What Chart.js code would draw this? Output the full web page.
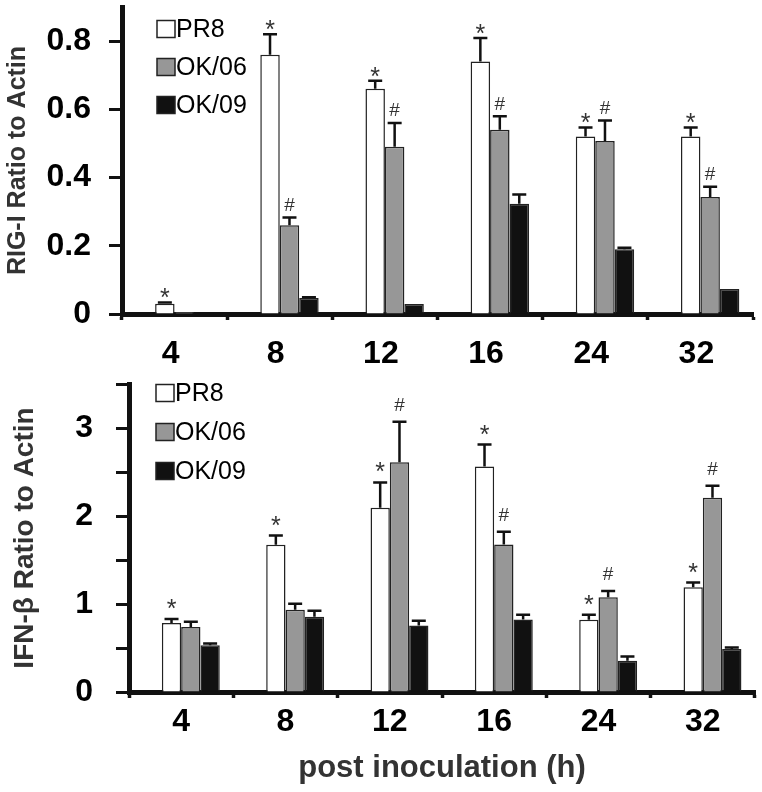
<!DOCTYPE html>
<html>
<head>
<meta charset="utf-8">
<script src="https://cdn.jsdelivr.net/npm/chart.js@4.4.1/dist/chart.umd.min.js"></script>
<style>
  html, body { margin: 0; padding: 0; background: #fff; }
  #wrap { position: relative; width: 762px; height: 792px; }
  canvas { position: absolute; left: 0; }
  #rigChart { top: 0; }
  #ifnChart { top: 380px; }
</style>
</head>
<body>
<div id="wrap">
  <canvas id="rigChart" width="762" height="380"></canvas>
  <canvas id="ifnChart" width="762" height="412"></canvas>
</div>
<script>
// hours post inoculation
const hours = ['4', '8', '12', '16', '24', '32'];
const strains = ['PR8', 'OK/06', 'OK/09'];

// RIG-I ratio to actin (top panel)
const rigPR8 = [0.03, 0.76, 0.66, 0.74, 0.52, 0.52];
const rigOK06 = [0.006, 0.26, 0.49, 0.54, 0.507, 0.343];
const rigOK09 = [0.002, 0.047, 0.029, 0.323, 0.19, 0.073];
const rigPR8Err = [0.004, 0.06, 0.024, 0.069, 0.027, 0.027];
const rigOK06Err = [0, 0.023, 0.07, 0.04, 0.06, 0.03];
const rigOK09Err = [0, 0.002, 0, 0.027, 0.004, 0];
const rigPR8Marks = ['*', '*', '*', '*', '*', '*'];
const rigOK06Marks = ['', '#', '#', '#', '#', '#'];
const rigYTicks = ['0', '0.2', '0.4', '0.6', '0.8'];

// IFN-beta ratio to actin (bottom panel)
const ifnPR8 = [0.784, 1.672, 2.095, 2.562, 0.821, 1.191];
const ifnOK06 = [0.739, 0.934, 2.61, 1.677, 1.078, 2.208];
const ifnOK09 = [0.531, 0.855, 0.757, 0.825, 0.355, 0.49];
const ifnPR8Err = [0.045, 0.106, 0.286, 0.25, 0.057, 0.052];
const ifnOK06Err = [0.06, 0.07, 0.46, 0.143, 0.071, 0.135];
const ifnOK09Err = [0.02, 0.068, 0.053, 0.053, 0.048, 0.015];
const ifnPR8Marks = ['*', '*', '*', '*', '*', '*'];
const ifnOK06Marks = ['', '', '#', '#', '#', '#'];
const ifnYTicks = ['0', '1', '2', '3'];

const fillColors = ['#ffffff', '#979797', '#111111'];
const FONT = '"Liberation Sans", Arial, Helvetica, sans-serif';

// error bars, significance marks and the inset legend
const annotate = {
  id: 'annotate',
  afterDatasetsDraw(chart, args, opts) {
    const ctx = chart.ctx;
    const yScale = chart.scales.y;
    ctx.save();
    chart.data.datasets.forEach((ds, di) => {
      if (!ds.errors) return;
      const meta = chart.getDatasetMeta(di);
      meta.data.forEach((bar, i) => {
        const top = yScale.getPixelForValue(ds.data[i] + ds.errors[i]);
        if (ds.errors[i] > 0) {
          ctx.strokeStyle = '#111';
          ctx.lineWidth = 2.5;
          ctx.beginPath();
          ctx.moveTo(bar.x, bar.y);
          ctx.lineTo(bar.x, top);
          ctx.moveTo(bar.x - 7, top);
          ctx.lineTo(bar.x + 7, top);
          ctx.stroke();
        }
        const mark = ds.marks ? ds.marks[i] : '';
        if (mark) {
          ctx.fillStyle = '#333';
          ctx.textAlign = 'center';
          ctx.textBaseline = 'alphabetic';
          if (mark === '*') {
            ctx.font = '25px ' + FONT;
            ctx.fillText(mark, bar.x, top - opts.starGap + 14);
          } else {
            ctx.font = '19px ' + FONT;
            ctx.fillText(mark, bar.x, top - opts.hashGap + 6.5);
          }
        }
      });
    });

    // legend
    let row = 0;
    chart.data.datasets.forEach(ds => {
      if (!ds.label) return;
      const cy = opts.legendY + row * opts.legendGap;
      ctx.fillStyle = ds.backgroundColor;
      ctx.fillRect(opts.legendX, cy - 8.5, 18, 17);
      ctx.strokeStyle = '#222';
      ctx.lineWidth = 1.5;
      ctx.strokeRect(opts.legendX, cy - 8.5, 18, 17);
      ctx.fillStyle = '#000';
      ctx.font = '25px ' + FONT;
      ctx.textAlign = 'left';
      ctx.textBaseline = 'middle';
      ctx.fillText(ds.label, opts.legendX + 19, cy + 1);
      row++;
    });
    ctx.restore();
  }
};

function makeDatasets(series, errors, marks) {
  // invisible first set pushes each group a little right of the category centre
  const sets = [{
    label: '',
    data: hours.map(() => 0),
    backgroundColor: 'rgba(0,0,0,0)',
    borderWidth: 0
  }];
  series.forEach((vals, k) => {
    sets.push({
      label: strains[k],
      data: vals,
      errors: errors[k],
      marks: marks[k],
      backgroundColor: fillColors[k],
      borderColor: '#222',
      borderWidth: 1.5
    });
  });
  return sets;
}

function makeChart(id, cfg) {
  return new Chart(document.getElementById(id), {
    type: 'bar',
    data: { labels: hours, datasets: cfg.datasets },
    plugins: [annotate],
    options: {
      responsive: false,
      animation: false,
      devicePixelRatio: 1,
      categoryPercentage: 0.74,
      barPercentage: 1,
      layout: { padding: cfg.padding },
      plugins: {
        legend: { display: false },
        tooltip: { enabled: false },
        annotate: cfg.annotate
      },
      scales: {
        x: {
          afterFit: s => {
            s.height = cfg.xHeight;
            s.paddingLeft = 0;
            s.paddingRight = 0;
          },
          grid: { offset: true, drawOnChartArea: false, tickLength: 6, tickWidth: 3.5, tickColor: '#111' },
          border: { width: 5, color: '#111' },
          ticks: {
            color: '#000',
            font: { family: FONT, size: 32, weight: 'bold' },
            padding: cfg.xPad,
            labelOffset: cfg.xLabelOffset,
            maxRotation: 0
          },
          title: cfg.xTitle
        },
        y: {
          min: 0,
          max: cfg.yMax,
          afterFit: s => {
            s.width = cfg.yWidth;
            s.paddingTop = 0;
            s.paddingBottom = 0;
          },
          grid: { drawOnChartArea: false, tickLength: cfg.yTickLen, tickWidth: 3, tickColor: '#111' },
          border: { width: 5, color: '#111' },
          ticks: {
            stepSize: cfg.yStep,
            color: '#000',
            font: { family: FONT, size: 32, weight: 'bold' },
            padding: cfg.yPad,
            callback: (v, i) => (i % 2 === 0 ? (cfg.yTicks[i / 2] || '') : '')
          },
          title: {
            display: true,
            text: cfg.yTitle,
            color: '#333',
            font: { family: FONT, size: cfg.yTitleSize, weight: 'bold' },
            padding: { top: cfg.yTitlePad, bottom: 0 }
          }
        }
      }
    }
  });
}

makeChart('rigChart', {
  datasets: makeDatasets([rigPR8, rigOK06, rigOK09], [rigPR8Err, rigOK06Err, rigOK09Err], [rigPR8Marks, rigOK06Marks, []]),
  padding: { top: 7, right: 9, left: 0, bottom: 0 },
  xHeight: 66,
  xPad: 15,
  xLabelOffset: -4,
  xTitle: { display: false },
  yMax: 0.9,
  yStep: 0.1,
  yTicks: rigYTicks,
  yWidth: 122,
  yTickLen: 13,
  yPad: 18,
  yTitle: 'RIG-I Ratio to Actin',
  yTitleSize: 25,
  yTitlePad: 3,
  annotate: { starGap: 10, hashGap: 13, legendX: 157, legendY: 29, legendGap: 38 }
});

makeChart('ifnChart', {
  datasets: makeDatasets([ifnPR8, ifnOK06, ifnOK09], [ifnPR8Err, ifnOK06Err, ifnOK09Err], [ifnPR8Marks, ifnOK06Marks, []]),
  padding: { top: 4, right: 7, left: 0, bottom: 0 },
  xHeight: 100,
  xPad: 5,
  xLabelOffset: 0,
  xTitle: {
    display: true,
    text: 'post inoculation (h)',
    color: '#333',
    font: { family: FONT, size: 31, weight: 'bold' },
    padding: { top: 0, bottom: 5 }
  },
  yMax: 3.5,
  yStep: 0.5,
  yTicks: ifnYTicks,
  yWidth: 129,
  yTickLen: 13,
  yPad: 23,
  yTitle: 'IFN-β Ratio to Actin',
  yTitleSize: 28,
  yTitlePad: 8,
  annotate: { starGap: 16, hashGap: 17, legendX: 156, legendY: 13, legendGap: 39 }
});
</script>
</body>
</html>
